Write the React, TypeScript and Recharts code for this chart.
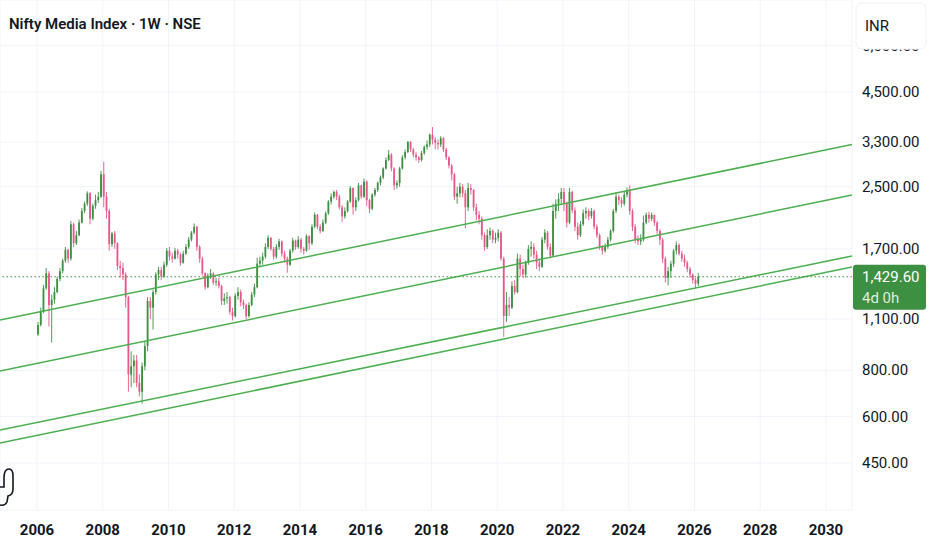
import React from "react";
import { ComposedChart, Bar, XAxis, YAxis, CartesianGrid, ReferenceLine } from "recharts";

// monthly candles, Jan 2006 .. Feb 2026
const startYear = 2006;
const firstOpen = 1000;

const closes = [
  1060, 1150, 1330, 1460, 1200, 1240, 1300, 1410, 1480, 1580, 1690, 1600, // 2006
  1980, 1760, 1850, 2000, 2150, 2250, 2400, 2050, 2220, 2300, 2350, 2700, // 2007
  2350, 2150, 1750, 1870, 1760, 1530, 1510, 1450, 1260, 780, 820, 850, // 2008
  740, 700, 820, 930, 1230, 1180, 1300, 1450, 1490, 1430, 1540, 1680, // 2009
  1620, 1600, 1680, 1640, 1560, 1650, 1720, 1800, 1880, 1950, 1720, 1600, // 2010
  1460, 1340, 1440, 1460, 1380, 1390, 1350, 1230, 1250, 1260, 1150, 1120, // 2011
  1270, 1300, 1220, 1200, 1120, 1200, 1280, 1340, 1550, 1580, 1620, 1720, // 2012
  1820, 1700, 1620, 1720, 1780, 1650, 1600, 1540, 1680, 1790, 1720, 1800, // 2013
  1700, 1680, 1840, 1760, 1950, 2100, 1950, 1900, 2000, 2120, 2280, 2350, // 2014
  2420, 2350, 2200, 2080, 2150, 2280, 2480, 2200, 2300, 2520, 2350, 2580, // 2015
  2300, 2180, 2380, 2450, 2560, 2650, 2800, 2950, 3050, 2800, 2520, 2560, // 2016
  2800, 3000, 3100, 3300, 3150, 3050, 3000, 2950, 3080, 3200, 3250, 3450, // 2017
  3350, 3280, 3250, 3380, 3150, 3000, 2850, 2700, 2350, 2400, 2500, 2400, // 2018
  2200, 2480, 2450, 2200, 2100, 2050, 1850, 1720, 1850, 1900, 1800, 1820, // 2019
  1880, 1600, 1120, 1200, 1180, 1350, 1300, 1600, 1500, 1450, 1560, 1700, // 2020
  1720, 1640, 1560, 1520, 1800, 1880, 1720, 1630, 2150, 2250, 2320, 2420, // 2021
  2250, 2000, 2420, 2160, 1950, 1850, 1980, 2120, 2150, 2080, 2150, 1950, // 2022
  1850, 1720, 1680, 1720, 1800, 1900, 2150, 2350, 2300, 2250, 2380, 2450, // 2023
  2150, 1950, 1800, 1780, 1800, 2000, 2100, 2050, 2100, 2000, 1900, 1800, // 2024
  1600, 1420, 1480, 1550, 1680, 1740, 1650, 1600, 1560, 1500, 1450, 1400, // 2025
  1370, 1429.6, // 2026
];

const highs = [
  1080, 1180, 1360, 1510, 1480, 1280, 1340, 1430, 1510, 1600, 1720, 1700,
  2020, 2000, 1900, 2040, 2190, 2280, 2430, 2420, 2250, 2380, 2420, 2760,
  2920, 2420, 2180, 1890, 1900, 1770, 1580, 1560, 1470, 1270, 900, 880,
  880, 780, 840, 960, 1260, 1260, 1320, 1470, 1520, 1520, 1570, 1710,
  1720, 1660, 1710, 1700, 1660, 1680, 1750, 1830, 1900, 1990, 1960, 1740,
  1620, 1470, 1460, 1500, 1470, 1420, 1420, 1360, 1290, 1300, 1270, 1180,
  1290, 1340, 1320, 1240, 1210, 1220, 1300, 1370, 1610, 1620, 1660, 1760,
  1850, 1830, 1720, 1750, 1810, 1790, 1680, 1620, 1700, 1820, 1800, 1840,
  1820, 1720, 1860, 1850, 1980, 2130, 2110, 1980, 2040, 2140, 2300, 2400,
  2440, 2450, 2380, 2230, 2200, 2300, 2510, 2490, 2340, 2560, 2530, 2630,
  2600, 2320, 2400, 2480, 2580, 2680, 2820, 3000, 3140, 3080, 2820, 2600,
  2830, 3040, 3150, 3320, 3320, 3180, 3100, 3020, 3120, 3230, 3330, 3480,
  3620, 3400, 3350, 3420, 3400, 3180, 3020, 2880, 2720, 2500, 2560, 2540,
  2450, 2560, 2540, 2460, 2250, 2150, 2080, 1880, 1920, 1940, 1920, 1880,
  1920, 1900, 1620, 1300, 1260, 1390, 1400, 1650, 1640, 1540, 1580, 1740,
  1780, 1760, 1680, 1600, 1830, 1920, 1900, 1760, 2250, 2310, 2400, 2480,
  2480, 2280, 2480, 2440, 2200, 2000, 2020, 2170, 2200, 2180, 2190, 2170,
  1980, 1870, 1740, 1760, 1830, 1920, 2180, 2420, 2380, 2340, 2420, 2490,
  2520, 2180, 1980, 1850, 1860, 2090, 2130, 2140, 2130, 2100, 2020, 1920,
  1820, 1620, 1520, 1580, 1700, 1780, 1760, 1680, 1640, 1580, 1520, 1460,
  1420, 1465,
];

const lows = [
  990, 1050, 1140, 1320, 1050, 950, 1210, 1290, 1390, 1460, 1560, 1560,
  1580, 1720, 1740, 1840, 1990, 2120, 2220, 1980, 2030, 2180, 2260, 2330,
  2200, 2050, 1680, 1720, 1700, 1490, 1420, 1400, 1180, 700, 720, 740,
  720, 680, 650, 800, 900, 1100, 1030, 1280, 1400, 1400, 1420, 1520,
  1580, 1560, 1590, 1600, 1530, 1550, 1640, 1700, 1780, 1860, 1680, 1560,
  1440, 1320, 1330, 1410, 1360, 1350, 1330, 1200, 1200, 1210, 1130, 1090,
  1110, 1240, 1190, 1170, 1100, 1110, 1190, 1260, 1330, 1520, 1540, 1600,
  1700, 1680, 1590, 1600, 1690, 1620, 1560, 1465, 1530, 1660, 1690, 1700,
  1660, 1640, 1670, 1690, 1740, 1930, 1920, 1870, 1890, 1980, 2100, 2240,
  2320, 2300, 2170, 2010, 2050, 2130, 2260, 2100, 2150, 2280, 2320, 2330,
  2220, 2120, 2160, 2350, 2420, 2520, 2620, 2780, 2930, 2750, 2450, 2470,
  2500, 2780, 2960, 3080, 3100, 3000, 2940, 2900, 2920, 3050, 3150, 3200,
  3250, 3150, 3150, 3200, 3100, 2950, 2800, 2600, 2300, 2250, 2340, 2340,
  1930, 2150, 2380, 2150, 2030, 1980, 1800, 1680, 1700, 1800, 1760, 1760,
  1780, 1580, 985, 1080, 1120, 1170, 1280, 1290, 1430, 1420, 1420, 1540,
  1620, 1600, 1500, 1480, 1510, 1760, 1690, 1600, 1620, 2050, 2150, 2250,
  2150, 1940, 1980, 2120, 1900, 1800, 1830, 1960, 2050, 2030, 2050, 1920,
  1820, 1690, 1640, 1660, 1700, 1780, 1880, 2120, 2230, 2200, 2220, 2340,
  2100, 1900, 1760, 1740, 1740, 1780, 1980, 2000, 2020, 1960, 1860, 1740,
  1560, 1380, 1355, 1420, 1520, 1640, 1630, 1570, 1520, 1470, 1420, 1370,
  1330, 1350,
];

const lastPrice = 1429.6;
const priceTicks = [450, 600, 800, 1100, 1700, 2500, 3300, 4500, 6000];
const yearTicks = [2006, 2008, 2010, 2012, 2014, 2016, 2018, 2020, 2022, 2024, 2026, 2028, 2030];

// trend channel lines (parallel), endpoints at the plot edges
const trendYears = [2004.875, 2030.79];
const trendUpper = [1093, 3249];
const trendMid = [796, 2375];
const trendLow1 = [552, 1626];
const trendLow2 = [509, 1519];

const UP = "#3d8f41";
const DOWN = "#e8578a";
const LINE = "#4caf50";
const FONT = "Roboto, 'Noto Sans', sans-serif";

const candles = closes.map((c, i) => ({
  t: startYear + (i + 0.5) / 12,
  open: i === 0 ? firstOpen : closes[i - 1],
  close: c,
  high: highs[i],
  low: lows[i],
  range: [lows[i], highs[i]],
}));

function fmtPrice(v: number) {
  return v.toLocaleString("en-US", { minimumFractionDigits: 2, maximumFractionDigits: 2 });
}

function Candle(props: any) {
  const { x, y, width, height, payload } = props;
  if (x == null || y == null || !payload) return null;
  const top = Math.min(y, y + height);
  const h = Math.abs(height);
  const { open, close, high, low } = payload;
  const lh = Math.log(high);
  const span = lh - Math.log(low) || 1;
  const toY = (v: number) => top + ((lh - Math.log(v)) / span) * h;
  const cx = x + width / 2;
  const color = close >= open ? UP : DOWN;
  const bTop = toY(Math.max(open, close));
  const bBot = toY(Math.min(open, close));
  return (
    <g>
      <line
        x1={cx}
        x2={cx}
        y1={toY(Math.max(high, open, close))}
        y2={toY(Math.min(low, open, close))}
        stroke={color}
        strokeWidth={0.9}
      />
      <rect x={cx - 0.9} y={bTop} width={1.8} height={Math.max(bBot - bTop, 0.8)} fill={color} />
    </g>
  );
}

function PriceTick({ x, y, payload }: any) {
  return (
    <text x={x} y={y + 5} fill="#131722" fontSize={15} fontFamily={FONT}>
      {fmtPrice(payload.value)}
    </text>
  );
}

function YearTick({ x, y, payload }: any) {
  return (
    <text x={x} y={y + 25} textAnchor="middle" fill="#131722" fontSize={15} fontWeight={700} fontFamily={FONT}>
      {payload.value}
    </text>
  );
}

function PriceTag(props: any) {
  const vb = props.viewBox;
  if (!vb) return null;
  const left = vb.x + vb.width + 1;
  const cy = vb.y;
  return (
    <g>
      <rect x={left} y={cy - 12} width={73} height={45} rx={3} fill="#3d8f41" />
      <text x={left + 9} y={cy + 5} fill="#ffffff" fontSize={15} fontFamily={FONT}>
        {fmtPrice(lastPrice)}
      </text>
      <text x={left + 9} y={cy + 26} fill="#ffffff" fillOpacity={0.85} fontSize={15} fontFamily={FONT}>
        4d 0h
      </text>
    </g>
  );
}

function seg(ys: number[]) {
  return [
    { x: trendYears[0], y: ys[0] },
    { x: trendYears[1], y: ys[1] },
  ];
}

export default function App() {
  return (
    <div style={{ position: "absolute", left: 0, top: 0, width: 932, height: 550, background: "#fff", fontFamily: FONT }}>
      <ComposedChart width={932} height={550} data={candles} margin={{ top: 0, right: 0, bottom: 0, left: 0 }}>
        <CartesianGrid stroke="#f0f3fa" strokeWidth={1} />
        <XAxis
          dataKey="t"
          type="number"
          domain={[2004.8745, 2030.791]}
          allowDataOverflow
          ticks={yearTicks}
          tick={<YearTick />}
          tickLine={false}
          tickSize={0}
          tickMargin={0}
          axisLine={false}
          height={40}
          interval={0}
        />
        <YAxis
          orientation="right"
          scale="log"
          domain={[336.1, 7966]}
          allowDataOverflow
          ticks={priceTicks}
          tick={<PriceTick />}
          tickLine={false}
          tickSize={0}
          tickMargin={10}
          axisLine={false}
          width={80}
          interval={0}
        />
        <ReferenceLine segment={seg(trendUpper)} stroke={LINE} strokeWidth={1.5} ifOverflow="visible" />
        <ReferenceLine segment={seg(trendMid)} stroke={LINE} strokeWidth={1.5} ifOverflow="visible" />
        <ReferenceLine segment={seg(trendLow1)} stroke={LINE} strokeWidth={1.5} ifOverflow="visible" />
        <ReferenceLine segment={seg(trendLow2)} stroke={LINE} strokeWidth={1.5} ifOverflow="visible" />
        <Bar dataKey="range" barSize={2} shape={<Candle />} isAnimationActive={false} />
        <ReferenceLine
          y={lastPrice}
          stroke="#3d8f41"
          strokeDasharray="1.5 2.5"
          strokeWidth={1}
          ifOverflow="visible"
          label={<PriceTag />}
        />
      </ComposedChart>
      <svg width={932} height={550} style={{ position: "absolute", left: 0, top: 0, pointerEvents: "none" }}>
        <text x={9} y={29} fill="#131722" fontSize={15} fontWeight={600} fontFamily={FONT}>
          Nifty Media Index · 1W · NSE
        </text>
        <rect x={856} y={3} width={70} height={46} rx={6} fill="#ffffff" stroke="#f0f1f4" />
        <text x={865} y={31} fill="#131722" fontSize={15} fontFamily={FONT}>
          INR
        </text>
        <path
          d="M0 487 L4 487 L4 478 Q4 469 9 469 Q13 469 13 476 L13 489 Q13 495 8 496 L7 502 Q5 506 0 505"
          fill="none"
          stroke="#131722"
          strokeWidth={1.6}
        />
      </svg>
    </div>
  );
}
